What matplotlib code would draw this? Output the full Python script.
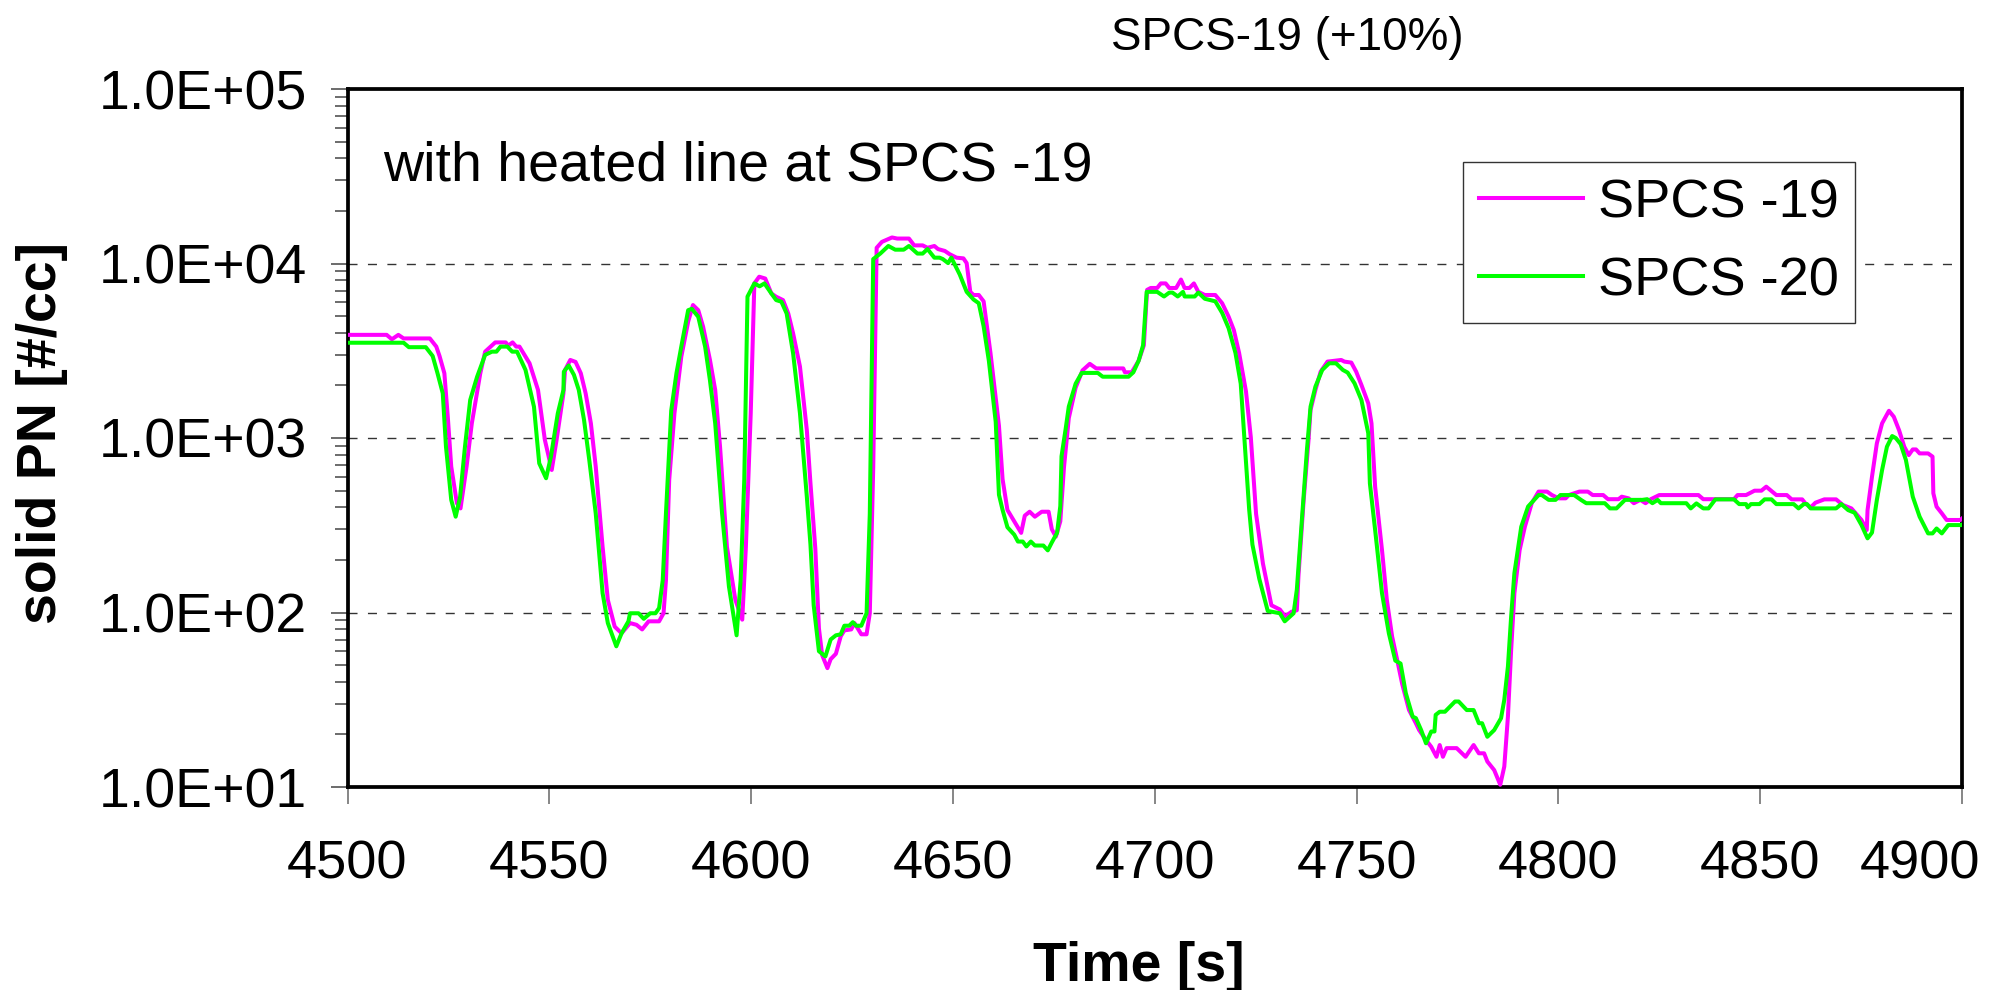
import matplotlib
matplotlib.use("Agg")
import matplotlib.pyplot as plt
from matplotlib import font_manager
from matplotlib.transforms import ScaledTranslation
from matplotlib.ticker import FixedLocator, FuncFormatter, NullFormatter

# ---------------------------------------------------------------- data
# SPCS -19 (heated line): time [s] and solid particle number [#/cc]
t_spcs19 = [4500, 4509.7, 4511, 4512.6, 4513.9, 4520.4, 4522, 4522.8, 4524.0, 4524.9,
            4525.7, 4527.1, 4528.0, 4529.5, 4530.8, 4532.9, 4534.1, 4536.6, 4539.2, 4539.8,
            4540.9, 4541.8, 4542.6, 4545.1, 4547.2, 4548.9, 4550.6, 4551.8, 4553.5, 4553.9,
            4555.2, 4556.5, 4557.8, 4559.0, 4560.3, 4561.5, 4563.2, 4564.5, 4566.2, 4567.9,
            4570.0, 4571.6, 4573.0, 4574.6, 4577.2, 4578.3, 4578.9, 4579.7, 4581.0, 4582.7,
            4584.4, 4585.6, 4586.9, 4588.1, 4589.8, 4591.1, 4592.3, 4594.0, 4596.1, 4597.8,
            4598.7, 4599.9, 4600.8, 4602.0, 4603.5, 4605.0, 4606.2, 4607.9, 4609.2, 4610.4,
            4612.1, 4613.8, 4614.7, 4615.9, 4616.8, 4617.6, 4618.9, 4619.7, 4621.0, 4622.2,
            4623.1, 4624.8, 4625.6, 4627.3, 4628.6, 4629.4, 4630.25, 4630.7, 4631.1, 4632.4,
            4634.9, 4636.2, 4639.1, 4640.4, 4642.5, 4643.7, 4645.4, 4646.3, 4648.0, 4649.2,
            4650.9, 4652.6, 4653.4, 4654.3, 4655.1, 4656.4, 4657.6, 4659.3, 4661.4, 4662.3,
            4663.5, 4665.2, 4666.9, 4667.8, 4669.0, 4670.3, 4672.0, 4673.7, 4674.5, 4675.5,
            4676.6, 4677.5, 4678.7, 4680.4, 4682.1, 4683.9, 4685.5, 4692.2, 4692.6, 4694.3,
            4696.0, 4697.3, 4698.1, 4699.0, 4700.6, 4701.5, 4702.7, 4703.6, 4705.3, 4706.5,
            4707.4, 4708.6, 4709.7, 4710.8, 4712.4, 4715.0, 4716.7, 4718.3, 4719.6, 4720.9,
            4722.6, 4723.8, 4725.1, 4726.8, 4728.9, 4731.0, 4732.3, 4733.9, 4735.2, 4735.6,
            4736.9, 4738.1, 4738.6, 4739.8, 4741.1, 4742.8, 4746.2, 4747.0, 4748.7, 4749.9,
            4751.2, 4752.9, 4753.7, 4754.6, 4756.3, 4757.5, 4758.8, 4760.1, 4761.3, 4763.0,
            4764.7, 4765.5, 4767.2, 4768.5, 4769.8, 4770.6, 4771.4, 4772.3, 4774.8, 4777.0,
            4779.0, 4780.3, 4781.6, 4782.4, 4784.1, 4785.6, 4786.6, 4787.5, 4788.3, 4789.1,
            4790.4, 4791.7, 4793.4, 4795.1, 4797.2, 4798.4, 4800.1, 4801.8, 4802.6, 4805.2,
            4807.3, 4808.5, 4811.1, 4812.3, 4814.9, 4815.7, 4817.4, 4818.7, 4820.3, 4821.6,
            4822.9, 4825.0, 4834.7, 4835.9, 4843.5, 4844.4, 4846.5, 4848.6, 4850.3, 4851.5,
            4854.0, 4856.6, 4857.8, 4860.4, 4861.2, 4862.5, 4863.7, 4865.9, 4868.8, 4870.5,
            4872.6, 4875.1, 4876.4, 4876.6, 4877.7, 4878.9, 4880.2, 4881.9, 4883.1, 4884.4,
            4885.7, 4886.8, 4887.8, 4888.6, 4889.5, 4891.6, 4892.7, 4892.9, 4893.7, 4895.0,
            4896.2, 4899.6, 4901.0]
pn_spcs19 = [3900, 3900, 3680, 3900, 3720, 3720, 3340, 2950, 2350, 1270,
             686, 423, 395, 686, 1213, 2350, 3125, 3530, 3530, 3380,
             3530, 3340, 3340, 2680, 1885, 975, 656, 975, 1803, 2455,
             2800, 2730, 2350, 1803, 1213, 686, 238, 118, 83, 76,
             87, 85, 80, 89, 89, 99, 153, 574, 1384, 2925,
             4645, 5780, 5400, 4345, 2800, 1885, 891, 238, 118, 91,
             238, 1384, 7690, 8400, 8200, 6740, 6450, 6170, 5170, 3980,
             2565, 1110, 551, 233, 81, 57, 48, 54, 58, 73,
             79, 80, 87, 75, 75, 99, 675, 3070, 12300, 13300,
             14100, 13900, 13900, 12700, 12700, 12300, 12600, 12100, 11800, 11300,
             10800, 10700, 10050, 6880, 6600, 6600, 6070, 3070, 1175, 580,
             387, 333, 286, 359, 378, 354, 378, 378, 300, 272,
             333, 675, 1300, 1945, 2440, 2660, 2505, 2505, 2380, 2380,
             2770, 3395, 7060, 7240, 7240, 7690, 7690, 7240, 7240, 8090,
             7240, 7240, 7690, 6880, 6600, 6600, 5920, 4960, 4150, 3070,
             1850, 1010, 368, 191, 110, 104, 95, 101, 103, 161,
             442, 975, 1449, 1885, 2400, 2740, 2800, 2740, 2705, 2400,
             2015, 1580, 1213, 526, 228, 118, 73, 53, 39, 27.6,
             23.2, 21.2, 18.6, 17.0, 14.9, 17.4, 14.9, 16.7, 16.7, 14.9,
             17.4, 15.6, 15.6, 14.0, 12.5, 10.3, 13.1, 25.3, 61, 129,
             228, 310, 423, 493, 493, 471, 451, 451, 471, 493,
             493, 471, 471, 446, 446, 461, 451, 423, 442, 423,
             446, 471, 471, 446, 446, 471, 471, 499, 499, 526,
             471, 471, 445, 445, 422, 400, 426, 445, 445, 413,
             395, 339, 297, 386, 600, 931, 1213, 1432, 1324, 1110,
             891, 798, 860, 860, 816, 816, 782, 482, 404, 370,
             339, 339, 362]

# SPCS -20: time [s] and solid particle number [#/cc]
t_spcs20 = [4500, 4513.9, 4515.2, 4519.4, 4521.1, 4522.3, 4523.6, 4524.0, 4524.4, 4525.7,
            4526.8, 4527.9, 4529.1, 4530.4, 4532.1, 4534.1, 4535.8, 4536.9, 4537.9, 4539.6,
            4540.8, 4542.0, 4544.1, 4546.2, 4547.5, 4549.2, 4550.4, 4552.1, 4553.5, 4553.6,
            4554.8, 4556.1, 4557.3, 4558.6, 4559.9, 4561.5, 4563.2, 4564.5, 4566.6, 4567.9,
            4569.6, 4570.0, 4572.1, 4573.4, 4575.0, 4576.3, 4577.2, 4578.1, 4578.9, 4580.2,
            4581.5, 4582.7, 4584.4, 4585.3, 4586.9, 4588.6, 4589.8, 4591.1, 4592.8, 4594.5,
            4596.4, 4597.4, 4598.3, 4599.1, 4600.8, 4602.1, 4603.3, 4605.0, 4606.2, 4607.5,
            4608.8, 4610.4, 4612.1, 4613.8, 4614.7, 4615.5, 4616.8, 4618.4, 4619.7, 4621.0,
            4622.2, 4623.1, 4624.3, 4625.2, 4626.0, 4627.3, 4628.6, 4629.4, 4630.25, 4632.0,
            4634.0, 4635.7, 4637.8, 4639.1, 4641.2, 4642.5, 4643.7, 4645.4, 4646.7, 4647.5,
            4648.8, 4649.6, 4651.7, 4653.4, 4655.1, 4656.4, 4657.6, 4658.9, 4660.6, 4661.4,
            4662.3, 4663.5, 4665.2, 4666.1, 4667.3, 4668.2, 4669.3, 4670.3, 4672.4, 4673.5,
            4674.5, 4675.8, 4676.6, 4676.9, 4677.9, 4678.7, 4680.4, 4681.9, 4685.9, 4687.1,
            4693.5, 4694.7, 4696.0, 4697.1, 4698.0, 4700.6, 4702.3, 4703.6, 4704.4, 4705.7,
            4707.0, 4707.4, 4709.9, 4710.8, 4712.4, 4715.0, 4716.7, 4718.3, 4720.0, 4721.3,
            4723.4, 4724.2, 4725.9, 4728.0, 4731.0, 4732.2, 4734.4, 4735.2, 4736.5, 4737.7,
            4738.6, 4739.8, 4741.5, 4743.2, 4744.9, 4746.6, 4747.8, 4749.5, 4751.2, 4752.9,
            4753.3, 4754.6, 4756.3, 4758.0, 4759.6, 4760.9, 4762.2, 4763.9, 4764.7, 4766.0,
            4767.2, 4768.5, 4769.3, 4769.6, 4770.6, 4771.9, 4774.4, 4775.3, 4777.3, 4779.0,
            4780.3, 4781.1, 4782.4, 4784.1, 4785.8, 4786.6, 4787.5, 4788.3, 4789.1, 4790.8,
            4792.5, 4795.1, 4795.9, 4797.6, 4799.3, 4800.5, 4803.9, 4805.6, 4806.9, 4811.5,
            4812.8, 4814.4, 4816.5, 4820.8, 4822.0, 4823.3, 4824.6, 4825.4, 4831.7, 4832.8,
            4834.2, 4835.9, 4837.2, 4838.9, 4843.5, 4844.8, 4846.5, 4846.9, 4847.7, 4849.8,
            4851.1, 4852.8, 4854.0, 4858.3, 4859.5, 4860.8, 4861.6, 4862.5, 4868.8, 4870.1,
            4871.8, 4873.4, 4875.1, 4876.6, 4877.7, 4878.9, 4880.2, 4881.4, 4882.7, 4883.6,
            4884.8, 4886.1, 4887.8, 4889.5, 4891.6, 4892.7, 4893.7, 4895.0, 4896.6, 4900.0,
            4901.1]
pn_spcs20 = [3515, 3515, 3315, 3315, 2950, 2350, 1803, 1270, 891, 442,
             354, 460, 891, 1652, 2240, 2995, 3125, 3125, 3340, 3340,
             3125, 3125, 2455, 1510, 716, 588, 782, 1384, 1885, 2400,
             2605, 2300, 1885, 1270, 748, 370, 129, 87, 64, 76,
             89, 99, 99, 92, 99, 99, 106, 153, 370, 1434,
             2350, 3340, 5400, 5500, 4950, 3340, 2140, 1213, 370, 141,
             74, 153, 574, 6460, 7690, 7400, 7690, 6740, 6170, 6040,
             5170, 3055, 1384, 461, 245, 110, 60, 56, 70, 74,
             75, 84, 84, 88, 84, 84, 99, 368, 10600, 11400,
             12600, 12000, 12000, 12600, 11400, 11400, 12100, 10800, 10800, 10600,
             10050, 10800, 8630, 6880, 6220, 5920, 4370, 2770, 1236, 473,
             387, 308, 279, 255, 255, 239, 255, 242, 242, 227,
             252, 286, 407, 785, 1117, 1513, 2047, 2360, 2360, 2245,
             2245, 2380, 2770, 3395, 6880, 6880, 6470, 6810, 6810, 6470,
             6880, 6470, 6470, 6810, 6280, 6070, 5210, 4260, 3070, 2047,
             387, 245, 156, 102, 99, 89, 99, 135, 354, 853,
             1513, 1968, 2455, 2680, 2680, 2455, 2370, 2057, 1652, 1064,
             550, 297, 129, 76, 53, 51, 34.5, 25.3, 24.8, 21.2,
             17.8, 20.8, 20.8, 25.9, 27.0, 27.0, 30.9, 30.9, 27.6, 27.6,
             23.2, 23.2, 19.4, 21.2, 24.8, 31.6, 49, 95, 168, 310,
             405, 471, 471, 442, 442, 471, 471, 442, 423, 423,
             395, 395, 442, 442, 446, 423, 442, 423, 423, 395,
             422, 395, 395, 445, 445, 418, 418, 400, 418, 418,
             445, 445, 418, 418, 395, 418, 418, 395, 395, 418,
             386, 373, 317, 266, 287, 441, 655, 891, 1026, 999,
             923, 748, 461, 354, 284, 284, 303, 284, 317, 317,
             339]

series_labels = ["SPCS -19", "SPCS -20"]
x_ticks = [4500, 4550, 4600, 4650, 4700, 4750, 4800, 4850, 4900]
y_decades = [1e1, 1e2, 1e3, 1e4, 1e5]
title_text = "SPCS-19 (+10%)"
note_text = "with heated line at SPCS -19"
x_label = "Time [s]"
y_label = "solid PN [#/cc]"

# ---------------------------------------------------------------- fonts
available = {f.name for f in font_manager.fontManager.ttflist}
base_font = "Liberation Sans" if "Liberation Sans" in available else "DejaVu Sans"
title_font, title_size = base_font, 33
for cand in ["Liberation Sans Narrow", "Arial Narrow"]:
    if cand in available:
        title_font, title_size = cand, 37
        break
plt.rcParams["font.family"] = [base_font, "DejaVu Sans"]

# ---------------------------------------------------------------- figure
W, H = 1996, 990
X0, X1, Y0, Y1 = 347.5, 1962, 89, 787
fig = plt.figure(figsize=(W / 100, H / 100), dpi=100)
ax = fig.add_axes([X0 / W, 1 - Y1 / H, (X1 - X0) / W, (Y1 - Y0) / H])

ax.plot(t_spcs19, pn_spcs19, color="#FF00FF", lw=2.9, label=series_labels[0],
        solid_joinstyle="round", zorder=3)
ax.plot(t_spcs20, pn_spcs20, color="#00FF00", lw=2.9, label=series_labels[1],
        solid_joinstyle="round", zorder=4)

ax.set_yscale("log")
ax.set_xlim(x_ticks[0], x_ticks[-1])
ax.set_ylim(y_decades[0], y_decades[-1])

ax.xaxis.set_major_locator(FixedLocator(x_ticks))
ax.yaxis.set_major_locator(FixedLocator(y_decades))
minor = [m * d for d in y_decades[:-1] for m in range(2, 10)]
ax.yaxis.set_minor_locator(FixedLocator(minor))
ax.yaxis.set_minor_formatter(NullFormatter())
ax.yaxis.set_major_formatter(FuncFormatter(lambda v, _: f"{v:.1E}"))

ax.tick_params(axis="x", which="major", direction="out", length=12, width=1.1,
               color="#666666", labelsize=39, pad=26)
ax.tick_params(axis="y", which="major", direction="out", length=12, width=1.1,
               color="#444444", labelsize=40, pad=17)
ax.tick_params(axis="y", which="minor", direction="out", length=9.5, width=1.1,
               color="#444444")

for s in ax.spines.values():
    s.set_linewidth(2.7)
    s.set_color("black")

# dashed horizontal grid at the inner decades
for d in y_decades[1:-1]:
    ax.axhline(d, color="#333333", lw=1.0, linestyle=(0, (6.5, 7.5)), zorder=1)

# axis titles
fig.text(1139 / W, 1 - 981 / H, x_label, ha="center", va="baseline",
         fontsize=40, fontweight="bold")
fig.text(42 / W, 1 - 433 / H, y_label, ha="center", va="center", rotation=90,
         fontsize=40, fontweight="bold")

fig.text(1287 / W, 1 - 50 / H, title_text, ha="center", va="baseline",
         fontsize=title_size, family=[title_font, "DejaVu Sans"])
fig.text(383 / W, 1 - 180 / H, note_text, ha="left", va="baseline", fontsize=40)

leg = ax.legend(loc="upper left", bbox_to_anchor=(1463 / W, 1 - 162 / H),
                bbox_transform=fig.transFigure, fontsize=39, frameon=True,
                fancybox=False, shadow=False, borderaxespad=0, borderpad=0.3,
                handlelength=1.92, handletextpad=0.27, labelspacing=0.52)
leg.get_frame().set_edgecolor("#333333")
leg.get_frame().set_linewidth(1.0)
leg.get_frame().set_facecolor("white")
leg.get_frame().set_alpha(1)
for line in leg.get_lines():
    line.set_linewidth(2.9)
leg.set_zorder(10)

# keep the last time label inside the figure: right-align it near the corner
fig.canvas.draw()
last = ax.xaxis.get_major_ticks()[-1].label1
last.set_horizontalalignment("right")
last.set_transform(last.get_transform() + ScaledTranslation(18 / 100, 0, fig.dpi_scale_trans))

fig.savefig("out.png", dpi=100, facecolor="white")
